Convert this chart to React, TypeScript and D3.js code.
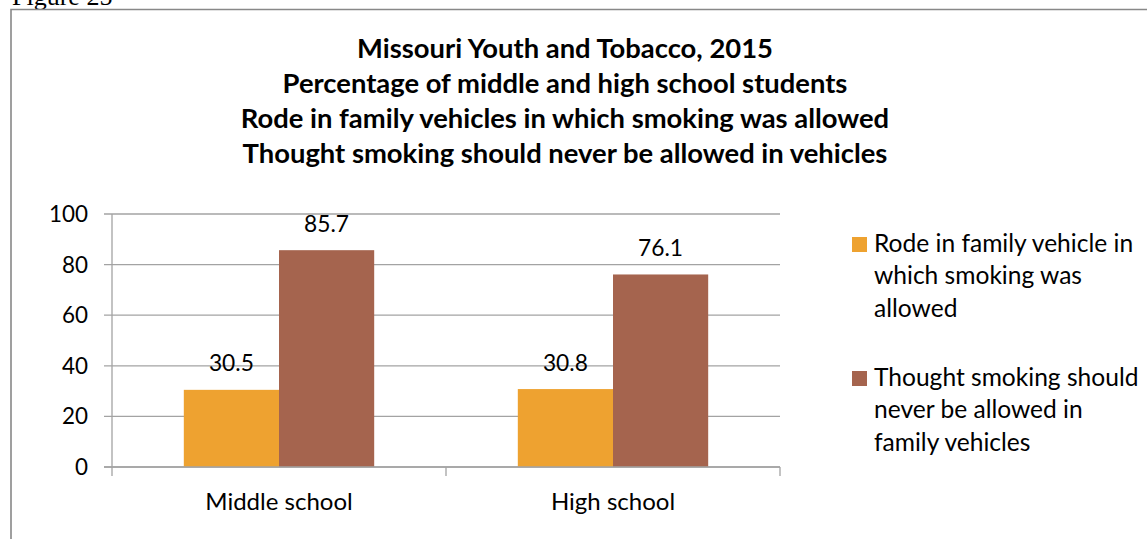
import React from "react";
import * as d3 from "d3";

const categories = ["Middle school", "High school"];
const seriesNames = [
  "Rode in family vehicle in which smoking was allowed",
  "Thought smoking should never be allowed in family vehicles",
];
const rodeValues = [30.5, 30.8];
const thoughtValues = [85.7, 76.1];
const yTicks = [0, 20, 40, 60, 80, 100];
const titleLines = [
  "Missouri Youth and Tobacco, 2015",
  "Percentage of middle and high school students",
  "Rode in family vehicles in which smoking was allowed",
  "Thought smoking should never be allowed in vehicles",
];
const legendLines = [
  ["Rode in family vehicle in", "which smoking was", "allowed"],
  ["Thought smoking should", "never be allowed in", "family vehicles"],
];
const colors = ["#EEA230", "#A5644E"];

const W = 1147;
const H = 539;
const FONT = "Lato, 'Open Sans', sans-serif";

let ctx: CanvasRenderingContext2D | null = null;
function textWidth(text: string, weight: string): number {
  if (!ctx) {
    const c = document.createElement("canvas");
    ctx = c.getContext("2d");
  }
  if (!ctx) return text.length * 50;
  ctx.font = `${weight} 100px ${FONT}`;
  return ctx.measureText(text).width;
}
// font size that makes `text` span `target` px
function fitSize(pairs: [string, number][], weight = "normal"): number {
  const sizes = pairs.map(([t, w]) => (100 * w) / textWidth(t, weight));
  return d3.mean(sizes) as number;
}

export default function App() {
  const plotL = 112;
  const plotR = 780;
  const plotT = 214;
  const plotB = 467;

  const titleSize = fitSize(
    [
      [titleLines[0], 416],
      [titleLines[1], 566],
      [titleLines[2], 652],
      [titleLines[3], 649],
    ],
    "bold"
  );
  const tickSize = fitSize([["100", 39]]);
  const labelSize = fitSize([
    ["30.5", 46],
    ["76.1", 44],
  ]);
  const catSize = fitSize([
    ["Middle school", 149],
    ["High school", 123],
  ]);
  const legendSize = fitSize([
    ["Thought smoking should", 264],
    ["Rode in family vehicle in", 261],
  ]);

  const x = d3.scaleBand<string>().domain(categories).range([plotL, plotR]).padding(0);
  const bw = x.bandwidth();
  const xSub = d3
    .scaleBand<number>()
    .domain([0, 1])
    .range([bw * 0.215, bw * 0.785])
    .padding(0);
  const y = d3.scaleLinear().domain([0, 100]).range([plotB, plotT]);

  const series = [rodeValues, thoughtValues];
  const gridColor = "#A3A3A3";

  return (
    <svg
      width={W}
      height={H}
      style={{ position: "absolute", left: 0, top: 0, background: "#fff" }}
    >
      <text x={12} y={5} fontFamily="'Liberation Serif', 'Times New Roman', serif" fontSize={26} fill="#000">
        Figure 25
      </text>
      {/* chart border */}
      <path d={`M11,${H + 2} L11,9.5 L${W + 2},9.5`} fill="none" stroke="#888" strokeWidth={1.6} />

      {/* title */}
      {titleLines.map((t, i) => (
        <text
          key={i}
          x={565}
          y={58 + i * 35}
          textAnchor="middle"
          fontFamily={FONT}
          fontWeight="bold"
          fontSize={titleSize}
          fill="#000"
        >
          {t}
        </text>
      ))}

      {/* gridlines and y ticks */}
      {yTicks.map((v) => (
        <g key={v}>
          <line x1={plotL - 8} x2={plotR} y1={y(v)} y2={y(v)} stroke={gridColor} strokeWidth={1.3} />
          <text
            x={88}
            y={y(v) + tickSize * 0.36}
            textAnchor="end"
            fontFamily={FONT}
            fontSize={tickSize}
            fill="#000"
          >
            {v}
          </text>
        </g>
      ))}
      {/* y axis line */}
      <line x1={plotL} x2={plotL} y1={plotT} y2={plotB} stroke={gridColor} strokeWidth={1.3} />
      {/* x axis ticks */}
      {[...categories.map((c) => x(c) as number), plotR].map((xx, i) => (
        <line key={i} x1={xx} x2={xx} y1={plotB} y2={plotB + 9} stroke={gridColor} strokeWidth={1.3} />
      ))}

      {/* bars */}
      {categories.map((c, ci) => (
        <g key={c} transform={`translate(${x(c)},0)`}>
          {series.map((s, si) => (
            <rect
              key={si}
              x={xSub(si)}
              y={y(s[ci])}
              width={xSub.bandwidth()}
              height={plotB - y(s[ci])}
              fill={colors[si]}
            />
          ))}
          {series.map((s, si) => (
            <text
              key={"l" + si}
              x={(xSub(si) as number) + xSub.bandwidth() / 2}
              y={y(s[ci]) - 18.5}
              textAnchor="middle"
              fontFamily={FONT}
              fontSize={labelSize}
              fill="#000"
            >
              {s[ci].toFixed(1)}
            </text>
          ))}
        </g>
      ))}
      {/* x axis line drawn over bars */}
      <line x1={plotL - 8} x2={plotR} y1={plotB} y2={plotB} stroke={gridColor} strokeWidth={1.3} />

      {/* category labels */}
      {categories.map((c) => (
        <text
          key={c}
          x={(x(c) as number) + bw / 2}
          y={510}
          textAnchor="middle"
          fontFamily={FONT}
          fontSize={catSize}
          fill="#000"
        >
          {c}
        </text>
      ))}

      {/* legend */}
      {seriesNames.map((name, i) => (
        <g key={name}>
          <rect x={852} y={237 + i * 134} width={15} height={15} fill={colors[i]} />
          {legendLines[i].map((ln, j) => (
            <text
              key={j}
              x={874}
              y={252 + i * 134 + j * 32.3}
              fontFamily={FONT}
              fontSize={legendSize}
              fill="#000"
            >
              {ln}
            </text>
          ))}
        </g>
      ))}
    </svg>
  );
}
